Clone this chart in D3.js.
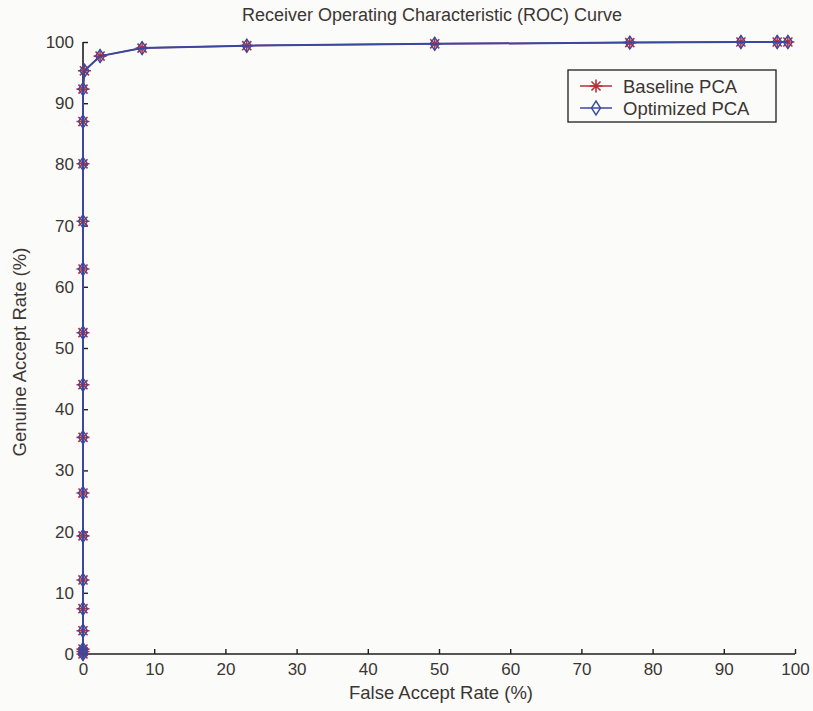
<!DOCTYPE html>
<html><head><meta charset="utf-8">
<script src="https://cdn.jsdelivr.net/npm/d3@7"></script>
<style>body{margin:0;background:#fbfbfa;}svg{display:block;font-family:"Liberation Sans",Arial,sans-serif;}</style>
</head><body>
<script>
const title = "Receiver Operating Characteristic (ROC) Curve";
const xLabel = "False Accept Rate (%)";
const yLabel = "Genuine Accept Rate (%)";
const seriesNames = ["Baseline PCA", "Optimized PCA"];
const xTicks = [0,10,20,30,40,50,60,70,80,90,100];
const yTicks = [0,10,20,30,40,50,60,70,80,90,100];

const baselineFAR = [0,0,0,0,0,0,0,0,0,0,0,0,0,0,0,0,0.2,2.4,8.3,23.0,49.4,76.8,92.4,97.5,99.0];
const baselineGAR = [0,0.4,0.8,3.8,7.4,12.1,19.3,26.3,35.4,44.0,52.5,62.9,70.7,80.1,87.0,92.3,95.3,97.7,99.0,99.4,99.7,99.9,100,100,100];
const optimizedFAR = [0,0,0,0,0,0,0,0,0,0,0,0,0,0,0,0,0.2,2.4,8.3,23.0,49.4,76.8,92.4,97.5,99.0];
const optimizedGAR = [0,0.4,0.8,3.8,7.4,12.1,19.3,26.3,35.4,44.0,52.5,62.9,70.7,80.1,87.0,92.3,95.3,97.7,99.0,99.4,99.7,99.9,100,100,100];

const W = 813, H = 711;
const svg = d3.select("body").append("svg").attr("width", W).attr("height", H);
svg.append("rect").attr("width", W).attr("height", H).attr("fill", "#fbfbfa");

const x = d3.scaleLinear().domain([0,100]).range([83, 795]);
const y = d3.scaleLinear().domain([0,100]).range([654, 42]);
const textCol = "#3b3632";
const axisCol = "#1e1e1e";
const red = "#b8303a", blue = "#3a48a0";

// axes (MATLAB style, ticks inward, no box)
const gx = svg.append("g").attr("transform", `translate(0,${y(0)})`)
  .call(d3.axisBottom(x).tickValues(xTicks).tickSize(-5).tickPadding(9).tickFormat(d3.format("d")));
const gy = svg.append("g").attr("transform", `translate(${x(0)},0)`)
  .call(d3.axisLeft(y).tickValues(yTicks).tickSize(-5).tickPadding(9).tickFormat(d3.format("d")));
[gx, gy].forEach(g => {
  g.select(".domain").attr("stroke", axisCol).attr("stroke-width", 1.6);
  g.selectAll(".tick line").attr("stroke", axisCol).attr("stroke-width", 1.4);
  g.selectAll(".tick text").attr("fill", textCol).attr("font-size", 17).attr("font-family", '"Liberation Sans",Arial,sans-serif');
});
gx.select(".domain").attr("d", `M${x(0)},0H${x(100)}`);
gy.select(".domain").attr("d", `M0,${y(0)}V${y(100)}`);

// title & labels
svg.append("text").attr("x", 432).attr("y", 21).attr("text-anchor","middle")
  .attr("font-size", 18).attr("fill", textCol).text(title);
svg.append("text").attr("x", 441).attr("y", 699).attr("text-anchor","middle")
  .attr("font-size", 18.5).attr("fill", textCol).text(xLabel);
svg.append("text").attr("transform", "translate(26,352) rotate(-90)").attr("text-anchor","middle")
  .attr("font-size", 18.5).attr("fill", textCol).text(yLabel);

const line = d3.line().x(d => x(d[0])).y(d => y(d[1]));
const base = baselineFAR.map((v,i) => [v, baselineGAR[i]]);
const opt = optimizedFAR.map((v,i) => [v, optimizedGAR[i]]);

function asterisk(g, cx, cy, r, col) {
  const p = `M${cx-r},${cy}H${cx+r}M${cx},${cy-r}V${cy+r}` +
    `M${cx-r*0.7},${cy-r*0.7}L${cx+r*0.7},${cy+r*0.7}M${cx-r*0.7},${cy+r*0.7}L${cx+r*0.7},${cy-r*0.7}`;
  g.append("path").attr("d", p).attr("stroke", col).attr("stroke-width", 1.6).attr("fill","none");
}
function diamond(g, cx, cy, rx, ry, col) {
  g.append("path").attr("d", `M${cx},${cy-ry}L${cx+rx},${cy}L${cx},${cy+ry}L${cx-rx},${cy}Z`)
    .attr("stroke", col).attr("stroke-width", 1.4).attr("fill","none");
}

const plot = svg.append("g");
plot.append("path").datum(base).attr("d", line).attr("fill","none").attr("stroke", red).attr("stroke-width", 1.5);
base.forEach(d => asterisk(plot, x(d[0]), y(d[1]), 6.5, red));
plot.append("path").datum(opt).attr("d", line).attr("fill","none").attr("stroke", blue).attr("stroke-width", 2);
opt.forEach(d => diamond(plot, x(d[0]), y(d[1]), 4.5, 6.5, blue));

// legend
const lg = svg.append("g");
lg.append("rect").attr("x", 568).attr("y", 70).attr("width", 208).attr("height", 52)
  .attr("fill", "#fbfbfa").attr("stroke", axisCol).attr("stroke-width", 1.3);
const rows = [{name: seriesNames[0], col: red, yy: 86, m: "a"}, {name: seriesNames[1], col: blue, yy: 108, m: "d"}];
rows.forEach(r => {
  lg.append("line").attr("x1", 580).attr("x2", 612).attr("y1", r.yy).attr("y2", r.yy).attr("stroke", r.col).attr("stroke-width", 1.5);
  if (r.m === "a") asterisk(lg, 596, r.yy, 6.5, r.col); else diamond(lg, 596, r.yy, 4.5, 7, r.col);
  lg.append("text").attr("x", 623).attr("y", r.yy + 6.5).attr("font-size", 18.5).attr("fill", textCol).text(r.name);
});
</script>
</body></html>
